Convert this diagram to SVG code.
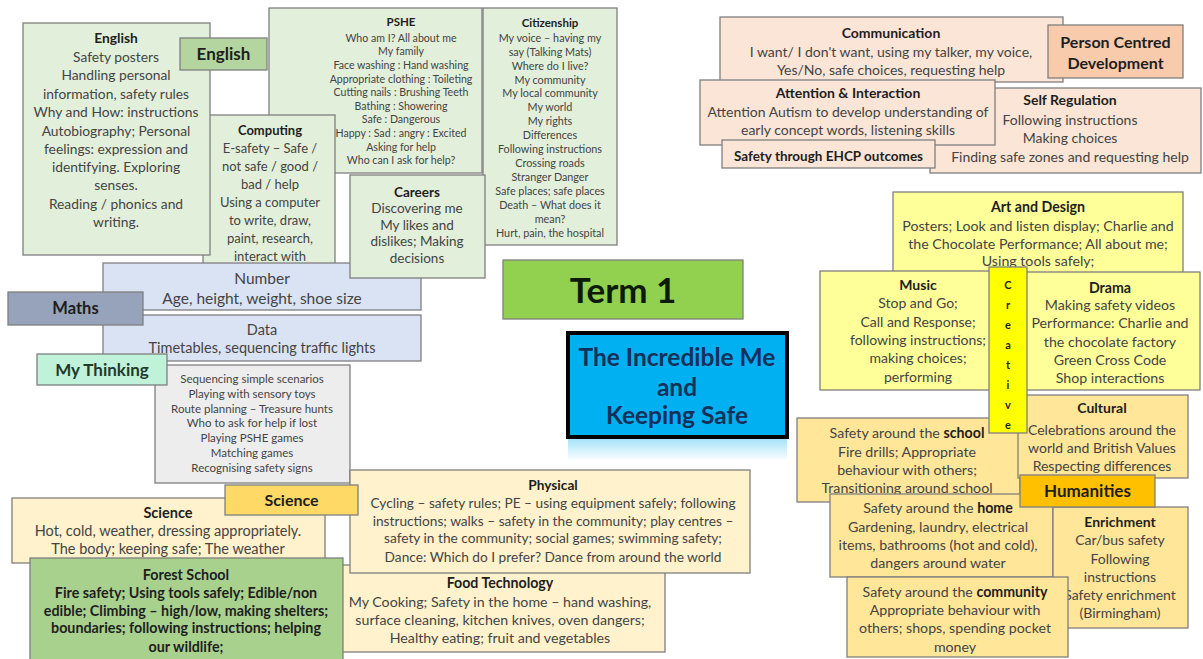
<svg xmlns="http://www.w3.org/2000/svg" width="1203" height="659" viewBox="0 0 1203 659">
<defs>
<linearGradient id="refl" x1="0" y1="0" x2="0" y2="1">
<stop offset="0" stop-color="#00b0f0" stop-opacity="0.35"/>
<stop offset="1" stop-color="#00b0f0" stop-opacity="0"/>
</linearGradient>
</defs>
<style>
text{font-family:Lato,"Liberation Sans",sans-serif;text-anchor:middle;fill:#444444}
.b{font-weight:bold;fill:#1e1e1e}
rect{stroke:#7f7f7f;stroke-width:1.3}
.g{fill:#e2efda}.gl{fill:#b4d5a0}.bl{fill:#dae3f3}.mt{fill:#97a3ba}.mint{fill:#c0f1d9}.gr{fill:#ededed}
.cr{fill:#fff2cc}.sl{fill:#ffd966}.fs{fill:#a9d18e}.pe{fill:#fbe5d6}.pc{fill:#f8cbad}
.y{fill:#ffff99}.yy{fill:#ffff00}.h{fill:#ffe699}.hl{fill:#ffc000}
.s14{font-size:14px}
</style>
<rect x="0" y="0" width="1203" height="659" style="fill:#ffffff;stroke:none"/>

<g id="pshe">
<rect x="269" y="8" width="213" height="165" class="g"/>
<text style="font-size:10.6px"><tspan x="401" y="26" class="b" style="font-size:11.5px">PSHE</tspan><tspan x="401" y="41.8">Who am I? All about me</tspan><tspan x="401" y="55.4">My family</tspan><tspan x="401" y="69">Face washing : Hand washing</tspan><tspan x="401" y="82.6">Appropriate clothing : Toileting</tspan><tspan x="401" y="96.2">Cutting nails : Brushing Teeth</tspan><tspan x="401" y="109.8">Bathing : Showering</tspan><tspan x="401" y="123.4">Safe : Dangerous</tspan><tspan x="401" y="137">Happy : Sad : angry : Excited</tspan><tspan x="401" y="150.6">Asking for help</tspan><tspan x="401" y="164.2">Who can I ask for help?</tspan></text>
</g>

<g id="citizenship">
<rect x="483" y="8" width="134" height="237" class="g"/>
<text style="font-size:10.8px"><tspan x="550" y="27" class="b" style="font-size:11.5px">Citizenship</tspan><tspan x="550" y="41.8">My voice – having my</tspan><tspan x="550" y="55.7">say (Talking Mats)</tspan><tspan x="550" y="69.6">Where do I live?</tspan><tspan x="550" y="83.5">My community</tspan><tspan x="550" y="97.4">My local community</tspan><tspan x="550" y="111.3">My world</tspan><tspan x="550" y="125.3">My rights</tspan><tspan x="550" y="139.2">Differences</tspan><tspan x="550" y="153.2">Following instructions</tspan><tspan x="550" y="167.1">Crossing roads</tspan><tspan x="550" y="181">Stranger Danger</tspan><tspan x="550" y="195">Safe places; safe places</tspan><tspan x="550" y="208.9">Death – What does it</tspan><tspan x="550" y="222.8">mean?</tspan><tspan x="550" y="236.8">Hurt, pain, the hospital</tspan></text>
</g>

<g id="computing">
<rect x="203" y="115" width="132" height="152" class="g"/>
<text style="font-size:13px"><tspan x="270" y="134.5" class="b">Computing</tspan><tspan x="270" y="152.5">E-safety – Safe /</tspan><tspan x="270" y="170.5">not safe / good /</tspan><tspan x="270" y="188.5">bad / help</tspan><tspan x="270" y="206.5">Using a computer</tspan><tspan x="270" y="224.5">to write, draw,</tspan><tspan x="270" y="242.5">paint, research,</tspan><tspan x="270" y="260.5">interact with</tspan></text>
</g>

<g id="english-content">
<rect x="23" y="23" width="187" height="232" class="g"/>
<text style="font-size:13.8px"><tspan x="116" y="43" class="b">English</tspan><tspan x="116" y="61.5">Safety posters</tspan><tspan x="116" y="80">Handling personal</tspan><tspan x="116" y="98.5">information, safety rules</tspan><tspan x="116" y="117">Why and How: instructions</tspan><tspan x="116" y="135.5">Autobiography; Personal</tspan><tspan x="116" y="153.5">feelings: expression and</tspan><tspan x="116" y="172">identifying. Exploring</tspan><tspan x="116" y="190">senses.</tspan><tspan x="116" y="208.5">Reading / phonics and</tspan><tspan x="116" y="227">writing.</tspan></text>
</g>

<g id="english-label">
<rect x="180" y="38" width="87" height="32" class="gl"/>
<text class="b" x="223.5" y="60" style="font-size:17px">English</text>
</g>

<g id="number">
<rect x="103" y="263" width="318" height="47" class="bl"/>
<text style="font-size:15.5px"><tspan x="262" y="283.5">Number</tspan><tspan x="262" y="303.5">Age, height, weight, shoe size</tspan></text>
</g>

<g id="careers">
<rect x="350" y="175" width="135" height="103" class="g"/>
<text style="font-size:13.5px"><tspan x="417" y="196.5" class="b">Careers</tspan><tspan x="417" y="213">Discovering me</tspan><tspan x="417" y="229.5">My likes and</tspan><tspan x="417" y="246">dislikes; Making</tspan><tspan x="417" y="262.5">decisions</tspan></text>
</g>

<g id="data">
<rect x="103" y="315" width="318" height="46" class="bl"/>
<text style="font-size:14.5px"><tspan x="262" y="335">Data</tspan><tspan x="262" y="353">Timetables, sequencing traffic lights</tspan></text>
</g>

<g id="maths">
<rect x="8" y="292" width="135" height="33" class="mt"/>
<text class="b" x="75.5" y="314" style="font-size:16.5px">Maths</text>
</g>

<g id="thinking-content">
<rect x="155" y="365" width="195" height="118" class="gr"/>
<text style="font-size:11.5px"><tspan x="252" y="383">Sequencing simple scenarios</tspan><tspan x="252" y="397.8">Playing with sensory toys</tspan><tspan x="252" y="412.6">Route planning – Treasure hunts</tspan><tspan x="252" y="427.4">Who to ask for help if lost</tspan><tspan x="252" y="442.2">Playing PSHE games</tspan><tspan x="252" y="457">Matching games</tspan><tspan x="252" y="471.8">Recognising safety signs</tspan></text>
</g>

<g id="thinking-label">
<rect x="37" y="354" width="130" height="31" class="mint"/>
<text class="b" x="102" y="376" style="font-size:17px;fill:#1f3a2a">My Thinking</text>
</g>

<g id="science-content">
<rect x="12" y="498" width="313" height="65" class="cr"/>
<text style="font-size:14.5px"><tspan x="168" y="518" class="b">Science</tspan><tspan x="168" y="535.5">Hot, cold, weather, dressing appropriately.</tspan><tspan x="168" y="554">The body; keeping safe; The weather</tspan></text>
</g>

<g id="food-technology">
<rect x="335" y="565" width="330" height="87" class="cr"/>
<text style="font-size:14.2px"><tspan x="500" y="588" class="b">Food Technology</tspan><tspan x="500" y="607">My Cooking; Safety in the home – hand washing,</tspan><tspan x="500" y="625">surface cleaning, kitchen knives, oven dangers;</tspan><tspan x="500" y="643">Healthy eating; fruit and vegetables</tspan></text>
</g>

<g id="physical">
<rect x="350" y="470" width="400" height="103" class="cr"/>
<text style="font-size:13.7px"><tspan x="553" y="490" class="b">Physical</tspan><tspan x="553" y="508">Cycling – safety rules; PE – using equipment safely; following</tspan><tspan x="553" y="525.5">instructions; walks – safety in the community; play centres –</tspan><tspan x="553" y="543">safety in the community; social games; swimming safety;</tspan><tspan x="553" y="562">Dance: Which do I prefer? Dance from around the world</tspan></text>
</g>

<g id="science-label">
<rect x="225" y="485" width="133" height="30" class="sl"/>
<text class="b" x="291.5" y="506" style="font-size:16px">Science</text>
</g>

<g id="forest-school">
<rect x="30" y="558" width="313" height="102" class="fs"/>
<text class="b" style="font-size:14.3px"><tspan x="186" y="580">Forest School</tspan><tspan x="186" y="598">Fire safety; Using tools safely; Edible/non</tspan><tspan x="186" y="615.5">edible; Climbing – high/low, making shelters;</tspan><tspan x="186" y="633">boundaries; following instructions; helping</tspan><tspan x="186" y="652">our wildlife;</tspan></text>
</g>

<g id="term-1">
<rect x="503" y="260" width="240" height="59" style="fill:#92d050"/>
<text class="b" x="623" y="303" style="font-size:35px;fill:#0d1a05">Term 1</text>
</g>

<g id="incredible-me">
<rect x="568" y="439" width="219" height="22" style="fill:url(#refl);stroke:none"/>
<rect x="568" y="333" width="219" height="104" style="fill:#00b0f0;stroke:#000000;stroke-width:4"/>
<text class="b" style="font-size:24.5px;fill:#14305a"><tspan x="677" y="366">The Incredible Me</tspan><tspan x="677" y="395.5">and</tspan><tspan x="677" y="424">Keeping Safe</tspan></text>
</g>

<g id="communication">
<rect x="720" y="17" width="343" height="65" class="pe"/>
<text style="font-size:14px"><tspan x="891" y="38" class="b">Communication</tspan><tspan x="891" y="57">I want/ I don't want, using my talker, my voice,</tspan><tspan x="891" y="75">Yes/No, safe choices, requesting help</tspan></text>
</g>

<g id="person-centred">
<rect x="1048" y="25" width="135" height="53" class="pc"/>
<text class="b" style="font-size:16px"><tspan x="1115.5" y="47.5">Person Centred</tspan><tspan x="1115.5" y="68.5">Development</tspan></text>
</g>

<g id="self-regulation">
<rect x="930" y="88" width="271" height="85" class="pe"/>
<text style="font-size:14px"><tspan x="1070" y="105" class="b">Self Regulation</tspan><tspan x="1070" y="125">Following instructions</tspan><tspan x="1070" y="143">Making choices</tspan><tspan x="1070" y="162">Finding safe zones and requesting help</tspan></text>
</g>

<g id="attention">
<rect x="700" y="80" width="295" height="65" class="pe"/>
<text style="font-size:14px"><tspan x="848" y="98" class="b">Attention &amp; Interaction</tspan><tspan x="848" y="117">Attention Autism to develop understanding of</tspan><tspan x="848" y="135">early concept words, listening skills</tspan></text>
</g>

<g id="ehcp">
<rect x="722" y="140" width="213" height="28" class="pe"/>
<text class="b" x="828.5" y="160.5" style="font-size:13.5px">Safety through EHCP outcomes</text>
</g>

<g id="art-design">
<rect x="893" y="192" width="290" height="81" class="y"/>
<text style="font-size:14.2px"><tspan x="1038" y="212" class="b">Art and Design</tspan><tspan x="1038" y="231">Posters; Look and listen display; Charlie and</tspan><tspan x="1038" y="248.5">the Chocolate Performance;  All about me;</tspan><tspan x="1038" y="265.5">Using tools safely;</tspan></text>
</g>

<g id="music">
<rect x="820" y="271" width="195" height="119" class="y"/>
<text style="font-size:14px"><tspan x="918" y="290" class="b">Music</tspan><tspan x="918" y="308">Stop and Go;</tspan><tspan x="918" y="327">Call and Response;</tspan><tspan x="918" y="345">following instructions;</tspan><tspan x="918" y="363">making choices;</tspan><tspan x="918" y="382">performing</tspan></text>
</g>

<g id="drama">
<rect x="1015" y="272" width="185" height="118" class="y"/>
<text style="font-size:14.2px"><tspan x="1110" y="293" class="b">Drama</tspan><tspan x="1110" y="310">Making safety videos</tspan><tspan x="1110" y="328">Performance: Charlie and</tspan><tspan x="1110" y="347">the chocolate factory</tspan><tspan x="1110" y="365">Green Cross Code</tspan><tspan x="1110" y="383">Shop interactions</tspan></text>
</g>

<g id="school">
<rect x="797" y="418" width="223" height="84" class="h"/>
<text style="font-size:14.2px"><tspan x="907" y="438">Safety around the <tspan class="b">school</tspan></tspan><tspan x="907" y="457">Fire drills; Appropriate</tspan><tspan x="907" y="475">behaviour with others;</tspan><tspan x="907" y="493">Transitioning around school</tspan></text>
</g>

<g id="cultural">
<rect x="1018" y="395" width="170" height="83" class="h"/>
<text style="font-size:14px"><tspan x="1102" y="413" class="b">Cultural</tspan><tspan x="1102" y="435">Celebrations around the</tspan><tspan x="1102" y="453">world and British Values</tspan><tspan x="1102" y="471">Respecting differences</tspan></text>
</g>

<g id="creative">
<rect x="989" y="267" width="38" height="166" class="yy"/>
<text class="b" style="font-size:11px"><tspan x="1008" y="289">C</tspan><tspan x="1008" y="309">r</tspan><tspan x="1008" y="329">e</tspan><tspan x="1008" y="349">a</tspan><tspan x="1008" y="369">t</tspan><tspan x="1008" y="389">i</tspan><tspan x="1008" y="409">v</tspan><tspan x="1008" y="429">e</tspan></text>
</g>

<g id="home">
<rect x="830" y="494" width="223" height="83" class="h"/>
<text style="font-size:14.2px"><tspan x="938" y="513">Safety around the <tspan class="b">home</tspan></tspan><tspan x="938" y="532">Gardening, laundry, electrical</tspan><tspan x="938" y="550">items, bathrooms (hot and cold),</tspan><tspan x="938" y="568">dangers around water</tspan></text>
</g>

<g id="enrichment">
<rect x="1053" y="507" width="135" height="121" class="h"/>
<text style="font-size:14px"><tspan x="1120" y="527" class="b">Enrichment</tspan><tspan x="1120" y="545">Car/bus safety</tspan><tspan x="1120" y="564">Following</tspan><tspan x="1120" y="582">instructions</tspan><tspan x="1120" y="600">Safety enrichment</tspan><tspan x="1120" y="618">(Birmingham)</tspan></text>
</g>

<g id="community">
<rect x="847" y="577" width="221" height="80" class="h"/>
<text style="font-size:14.2px"><tspan x="955" y="597">Safety around the <tspan class="b">community</tspan></tspan><tspan x="955" y="615">Appropriate behaviour with</tspan><tspan x="955" y="633">others; shops, spending pocket</tspan><tspan x="955" y="652">money</tspan></text>
</g>

<g id="humanities-label">
<rect x="1020" y="475" width="135" height="32" class="hl"/>
<text class="b" x="1087.5" y="497" style="font-size:17px">Humanities</text>
</g>

<g id="connectors"></g>
</svg>
